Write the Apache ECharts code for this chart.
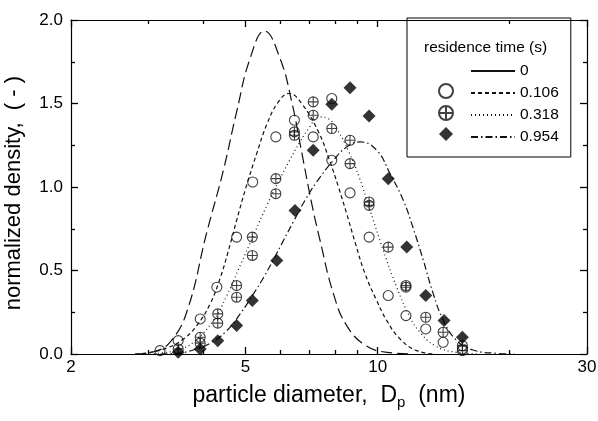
<!DOCTYPE html>
<html><head><meta charset="utf-8">
<script src="https://cdn.jsdelivr.net/npm/echarts@6/dist/echarts.min.js"></script>
<style>html,body{margin:0;padding:0;background:#fff}#c{width:598px;height:421px}</style>
</head><body><div id="c"></div>
<script>
// ---- axis / legend text ----
const xTickLabels = [2, 5, 10, 30];
const xMinorTicks = [3, 4, 6, 7, 8, 9, 20];
const xAxisTitle = 'particle diameter,  D{sub|p}  (nm)';
const yAxisTitle = 'normalized density,  ( - )  ';
const legendTitle = 'residence time (s)';
const times = ['0', '0.106', '0.318', '0.954'];

// ---- model curves (diameter nm, normalized density) ----
const curve0_d = [2.80, 3.10, 3.36, 3.67, 4.08, 4.45, 4.77, 5.12, 5.52, 5.99, 6.37, 6.71, 7.05, 7.39, 7.93, 8.50, 9.40, 10.5, 12.0];
const curve0_v = [0.000, 0.015, 0.07, 0.25, 0.73, 1.10, 1.45, 1.77, 1.934, 1.77, 1.51, 1.21, 0.92, 0.68, 0.36, 0.17, 0.05, 0.01, 0.0];

const curve106_d = [2.80, 3.00, 3.30, 3.61, 3.87, 4.15, 4.37, 4.57, 4.77, 5.00, 5.30, 5.60, 5.94, 6.28, 6.71, 7.33, 7.79, 8.14, 8.50, 8.88, 9.36, 9.95, 10.49, 11.25, 12.28, 13.5];
const curve106_v = [0.000, 0.008, 0.035, 0.09, 0.17, 0.30, 0.45, 0.62, 0.80, 0.99, 1.20, 1.38, 1.51, 1.56, 1.50, 1.33, 1.15, 1.00, 0.84, 0.67, 0.48, 0.32, 0.20, 0.09, 0.02, 0.0];

const curve318_d = [2.90, 3.20, 3.50, 3.80, 4.22, 4.53, 4.86, 5.21, 5.59, 5.99, 6.30, 6.65, 7.00, 7.35, 7.70, 8.10, 8.60, 9.10, 9.61, 10.30, 11.05, 11.85, 12.49, 13.50, 15.10, 17.0];
const curve318_v = [0.000, 0.006, 0.025, 0.07, 0.20, 0.35, 0.53, 0.71, 0.89, 1.05, 1.16, 1.27, 1.36, 1.42, 1.41, 1.34, 1.21, 1.05, 0.86, 0.62, 0.40, 0.22, 0.13, 0.05, 0.01, 0.0];

const curve954_d = [3.20, 3.51, 3.80, 4.15, 4.53, 4.86, 5.21, 5.50, 5.80, 6.10, 6.42, 6.83, 7.26, 7.93, 8.50, 9.12, 9.95, 10.67, 11.44, 12.06, 12.71, 13.39, 14.12, 15.10, 16.50, 18.70, 20.5];
const curve954_v = [0.000, 0.005, 0.024, 0.064, 0.14, 0.24, 0.36, 0.46, 0.57, 0.68, 0.79, 0.92, 1.03, 1.16, 1.24, 1.27, 1.22, 1.08, 0.92, 0.75, 0.56, 0.36, 0.20, 0.084, 0.024, 0.004, 0.0];

// ---- measurements ----
const meas106_d = [3.19, 3.51, 3.94, 4.30, 4.77, 5.19, 5.86, 6.46, 7.13, 7.86, 7.86, 8.65, 9.56, 10.57, 11.6, 12.87, 14.1, 15.6];
const meas106_v = [0.02, 0.08, 0.21, 0.40, 0.70, 1.03, 1.30, 1.40, 1.30, 1.53, 1.16, 0.965, 0.70, 0.35, 0.23, 0.15, 0.07, 0.03];

const meas318_d = [3.51, 3.94, 3.94, 4.32, 4.32, 4.77, 4.77, 5.18, 5.18, 5.86, 5.86, 6.46, 6.46, 7.13, 7.13, 7.86, 8.65, 8.65, 9.56, 9.56, 10.57, 11.6, 11.6, 12.87, 14.1, 15.6, 15.6];
const meas318_v = [0.03, 0.10, 0.065, 0.24, 0.185, 0.41, 0.34, 0.70, 0.59, 1.05, 0.96, 1.33, 1.31, 1.51, 1.43, 1.35, 1.28, 1.14, 0.91, 0.89, 0.64, 0.41, 0.40, 0.22, 0.13, 0.05, 0.02];

const meas954_d = [3.51, 3.94, 4.32, 4.77, 5.18, 5.89, 6.48, 7.13, 7.86, 8.65, 9.56, 10.57, 11.65, 12.87, 14.17, 15.6];
const meas954_v = [0.01, 0.03, 0.08, 0.17, 0.32, 0.56, 0.86, 1.22, 1.495, 1.595, 1.425, 1.05, 0.64, 0.35, 0.20, 0.10];

// ---- build ----
const pairs = (d, v) => d.map((x, i) => [x, v[i]]);
const INK = '#111';
const FONT = '"Liberation Sans", Arial, Helvetica, sans-serif';
const crossCircle = 'path://M0,10A10,10,0,1,1,20,10A10,10,0,1,1,0,10ZM0,10L20,10M10,0L10,20';

function curve(name, d, v, dash) {
  return { name, type: 'line', data: pairs(d, v), symbol: 'none', smooth: 0.45,
    lineStyle: { color: INK, width: 1.2, type: dash }, itemStyle: { color: INK }, z: 2, silent: true };
}
function scatter(name, d, v, symbol, size, filled) {
  return { name, type: 'scatter', data: pairs(d, v), symbol, symbolSize: size, symbolKeepAspect: true,
    itemStyle: filled ? { color: '#000' } : { color: 'rgba(0,0,0,0)', borderColor: INK, borderWidth: 1.1 },
    z: 3, silent: true };
}

function axLine(show) { return { show, onZero: false, lineStyle: { color: '#000', width: 1.2 } }; }
function xAx(position, ticks, len, labels, extra) {
  return Object.assign({
    type: 'log', logBase: 10, min: 2, max: 30, position,
    axisLine: axLine(labels !== null),
    axisTick: { show: true, inside: true, length: len, customValues: ticks, lineStyle: { color: '#000', width: 1.3 } },
    axisLabel: labels ? { show: true, customValues: labels, formatter: v => String(Math.round(v)), fontSize: 17, color: '#000', margin: 5, fontFamily: FONT } : { show: false },
    splitLine: { show: false }, minorTick: { show: false }, minorSplitLine: { show: false }
  }, extra || {});
}
function yAx(position, showLabel, extra) {
  return Object.assign({
    type: 'value', min: 0, max: 2, interval: 0.5, position,
    axisLine: axLine(true),
    axisTick: { show: true, inside: true, length: 7, lineStyle: { color: '#000', width: 1.3 } },
    minorTick: { show: true, splitNumber: 2, length: 4, lineStyle: { color: '#000', width: 1.3 } },
    axisLabel: showLabel ? { show: true, formatter: v => v.toFixed(1), fontSize: 17, color: '#000', margin: 8, fontFamily: FONT } : { show: false },
    splitLine: { show: false }
  }, extra || {});
}

const option = {
  backgroundColor: '#fff',
  animation: false,
  textStyle: { fontFamily: FONT },
  grid: { left: 71, right: 11, top: 20, bottom: 67, outerBoundsMode: 'none' },
  title: { text: legendTitle, left: 424, top: 40, padding: 0, textStyle: { fontSize: 15.5, fontWeight: 'normal', color: '#000', fontFamily: FONT } },
  legend: [
    { data: [ { name: times[0], lineStyle: { type: 'solid' } }, times[1], times[2], times[3] ],
      orient: 'vertical', left: 407, top: 18, padding: [45, 12, 12, 63],
      itemWidth: 44, itemHeight: 14, itemGap: 6,
      itemStyle: { opacity: 0, color: 'rgba(0,0,0,0)', borderWidth: 0 },
      borderColor: '#000', borderWidth: 1, selectedMode: false,
      textStyle: { fontSize: 15.5, color: '#000', fontFamily: FONT } },
    { data: ['m' + times[1], 'm' + times[2], 'm' + times[3]],
      orient: 'vertical', left: 438, top: 83, padding: 0,
      itemWidth: 14, itemHeight: 14, itemGap: 6, selectedMode: false,
      formatter: () => '', textStyle: { fontSize: 1 } }
  ],
  xAxis: [
    xAx('bottom', xTickLabels, 7, xTickLabels, {
      name: xAxisTitle, nameLocation: 'middle', nameGap: 28,
      nameTextStyle: { fontSize: 23, color: '#000', fontFamily: FONT, lineHeight: 28,
        rich: { sub: { fontSize: 15, color: '#000', fontFamily: FONT, verticalAlign: 'bottom', lineHeight: 14 } } }
    }),
    xAx('bottom', xMinorTicks, 4, null),
    xAx('top', xTickLabels, 7, false),
    xAx('top', xMinorTicks, 4, null)
  ],
  yAxis: [
    yAx('left', true, { name: yAxisTitle, nameLocation: 'middle', nameGap: 46,
      nameTextStyle: { fontSize: 22, color: '#000', fontFamily: FONT } }),
    yAx('right', false)
  ],
  series: [
    curve(times[0], curve0_d, curve0_v, [11, 5]),
    curve(times[1], curve106_d, curve106_v, [4, 3]),
    curve(times[2], curve318_d, curve318_v, [1, 3]),
    curve(times[3], curve954_d, curve954_v, [7, 3, 1.5, 3]),
    scatter('m' + times[1], meas106_d, meas106_v, 'circle', 10, false),
    scatter('m' + times[2], meas318_d, meas318_v, crossCircle, 10, false),
    scatter('m' + times[3], meas954_d, meas954_v, 'diamond', 13, true)
  ]
};
const chart = echarts.init(document.getElementById('c'), null, { renderer: 'canvas' });
chart.setOption(option);
</script></body></html>
